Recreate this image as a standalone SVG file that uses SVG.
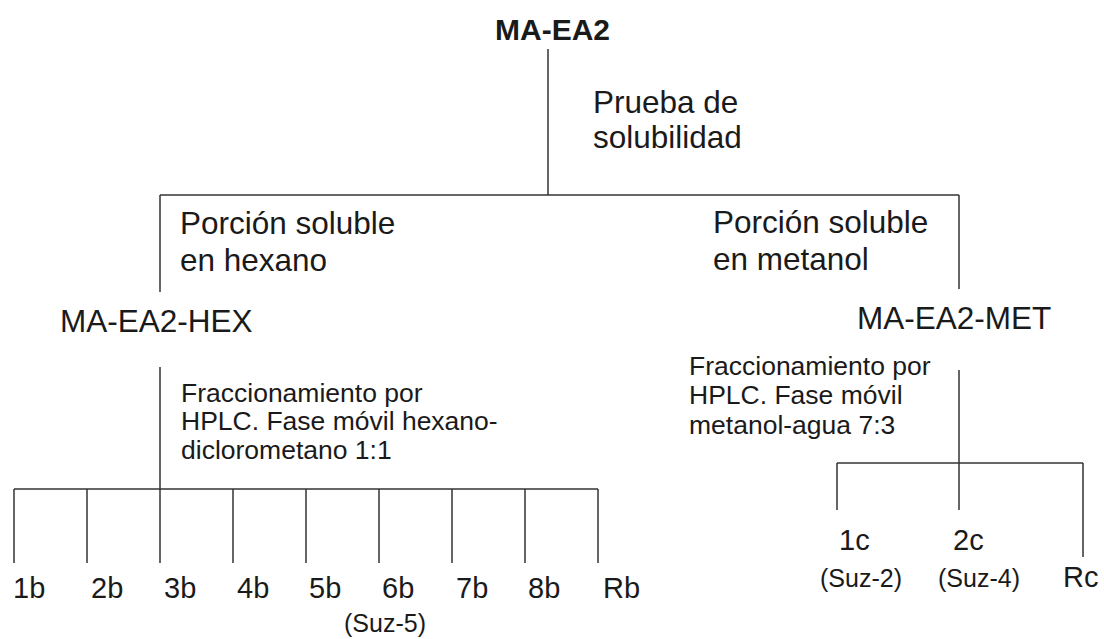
<svg xmlns="http://www.w3.org/2000/svg" width="1104" height="639" viewBox="0 0 1104 639">
<style>
text{font-family:"Liberation Sans",Arial,sans-serif;fill:#1a1a1a}
.big{font-size:31.5px}
.mid{font-size:26.5px}
.lab{font-size:29px}
.sm{font-size:25px}
.b{font-weight:bold;font-size:30px}
#connectors line{stroke:#333;stroke-width:1.5}
</style>
<rect width="1104" height="639" fill="#fff"/>
<g id="connectors">
<line x1="548" y1="49" x2="548" y2="195"/>
<line x1="160" y1="195" x2="959" y2="195"/>
<line x1="160" y1="195" x2="160" y2="292"/>
<line x1="959" y1="195" x2="959" y2="289"/>
<line x1="160" y1="367" x2="160" y2="489"/>
<line x1="14" y1="489" x2="598" y2="489"/>
<line x1="14" y1="489" x2="14" y2="563"/>
<line x1="87" y1="489" x2="87" y2="563"/>
<line x1="160" y1="489" x2="160" y2="563"/>
<line x1="233" y1="489" x2="233" y2="563"/>
<line x1="306" y1="489" x2="306" y2="563"/>
<line x1="379" y1="489" x2="379" y2="563"/>
<line x1="452" y1="489" x2="452" y2="563"/>
<line x1="525" y1="489" x2="525" y2="563"/>
<line x1="598" y1="489" x2="598" y2="563"/>
<line x1="959" y1="370" x2="959" y2="510"/>
<line x1="837" y1="463" x2="1083" y2="463"/>
<line x1="837" y1="463" x2="837" y2="510"/>
<line x1="1083" y1="463" x2="1083" y2="557"/>
</g>
<g id="root"><text class="b" x="495" y="40">MA-EA2</text></g>
<g id="step1"><text class="big" x="593" y="113">Prueba de</text><text class="big" x="593" y="148">solubilidad</text></g>
<g id="hexPortion"><text class="big" x="180" y="234">Porción soluble</text><text class="big" x="180" y="271">en hexano</text></g>
<g id="metPortion"><text class="big" x="713" y="233">Porción soluble</text><text class="big" x="713" y="270">en metanol</text></g>
<g id="hex"><text class="big" x="60" y="332">MA-EA2-HEX</text></g>
<g id="met"><text class="big" x="857" y="329">MA-EA2-MET</text></g>
<g id="hexStep"><text class="mid" x="181" y="402">Fraccionamiento por</text><text class="mid" x="181" y="430">HPLC. Fase móvil hexano-</text><text class="mid" x="181" y="459">diclorometano 1:1</text></g>
<g id="metStep"><text class="mid" x="689" y="375">Fraccionamiento por</text><text class="mid" x="689" y="404">HPLC. Fase móvil</text><text class="mid" x="689" y="434">metanol-agua 7:3</text></g>
<g id="f1b"><text class="lab" x="13" y="598">1b</text></g>
<g id="f2b"><text class="lab" x="91" y="598">2b</text></g>
<g id="f3b"><text class="lab" x="164" y="598">3b</text></g>
<g id="f4b"><text class="lab" x="237" y="598">4b</text></g>
<g id="f5b"><text class="lab" x="309" y="598">5b</text></g>
<g id="f6b"><text class="lab" x="382" y="598">6b</text><text class="sm" x="344" y="632">(Suz-5)</text></g>
<g id="f7b"><text class="lab" x="456" y="598">7b</text></g>
<g id="f8b"><text class="lab" x="528" y="598">8b</text></g>
<g id="fRb"><text class="lab" x="603" y="598">Rb</text></g>
<g id="f1c"><text class="lab" x="839" y="550">1c</text><text class="sm" x="820" y="587">(Suz-2)</text></g>
<g id="f2c"><text class="lab" x="953" y="550">2c</text><text class="sm" x="938" y="587">(Suz-4)</text></g>
<g id="fRc"><text class="lab" x="1063" y="587">Rc</text></g>
</svg>
